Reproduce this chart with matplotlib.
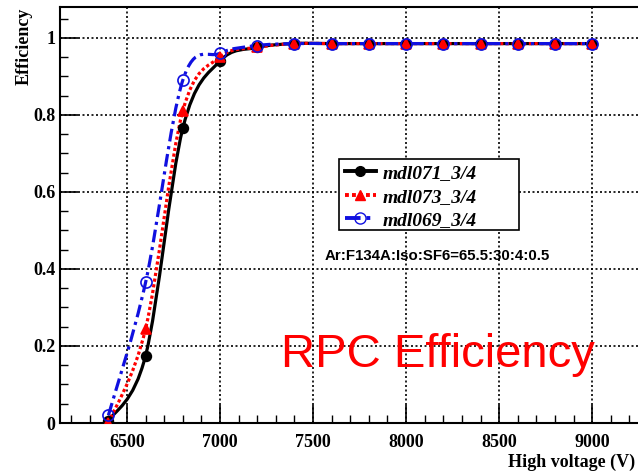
import numpy as np
import matplotlib.pyplot as plt
from matplotlib.path import Path
from matplotlib.patches import PathPatch, Rectangle
from matplotlib.lines import Line2D
from matplotlib.ticker import MultipleLocator

voltage = [6400, 6600, 6800, 7000, 7200, 7400, 7600, 7800, 8000, 8200, 8400, 8600, 8800, 9000]
eff_071 = [0.005, 0.175, 0.765, 0.940, 0.975, 0.985, 0.985, 0.985, 0.985, 0.985, 0.985, 0.985, 0.985, 0.985]
eff_073 = [0.000, 0.245, 0.810, 0.950, 0.975, 0.985, 0.985, 0.985, 0.985, 0.985, 0.985, 0.985, 0.985, 0.985]
eff_069 = [0.020, 0.365, 0.890, 0.960, 0.980, 0.985, 0.985, 0.985, 0.985, 0.985, 0.985, 0.985, 0.985, 0.985]
names = ["mdl071_3/4", "mdl073_3/4", "mdl069_3/4"]

serif = "Liberation Serif"
sans = "Liberation Sans"


def smooth_path(x, y):
    # catmull-rom through the points, as cubic bezier segments
    p = np.column_stack([x, y]).astype(float)
    ext = np.vstack([p[0], p, p[-1]])
    verts = [p[0]]
    codes = [Path.MOVETO]
    for i in range(1, len(ext) - 2):
        p0, p1, p2, p3 = ext[i - 1], ext[i], ext[i + 1], ext[i + 2]
        verts += [p1 + (p2 - p0) / 6, p2 - (p3 - p1) / 6, p2]
        codes += [Path.CURVE4] * 3
    return Path(verts, codes)


fig = plt.figure(figsize=(6.38, 4.74), dpi=100)
ax = fig.add_axes([60 / 638, 51 / 474, 588 / 638, 416 / 474])

styles = [
    dict(color="black", ls="-", marker="o", mfc="black", ms=7),
    dict(color="red", ls=(0, (1, 0.8)), marker="^", mfc="red", ms=7),
    dict(color="#1010e0", ls=(0, (4, 1.5, 1, 1.5)), marker="o", mfc="none", ms=8),
]
series = [eff_071, eff_073, eff_069]

for ys, st in zip(series, styles):
    ax.add_patch(PathPatch(smooth_path(voltage, ys), fill=False, edgecolor=st["color"],
                           linestyle=st["ls"], linewidth=2.3, zorder=3))
for ys, st in zip(series, styles):
    ax.plot(voltage, ys, linestyle="none", marker=st["marker"], color=st["color"],
            mfc=st["mfc"], mec=st["color"], ms=st["ms"], mew=1.2, zorder=4)

ax.set_xlim(6140, 9300)
ax.set_ylim(0, 1.08)
ax.xaxis.set_major_locator(MultipleLocator(500))
ax.xaxis.set_minor_locator(MultipleLocator(100))
ax.yaxis.set_major_locator(MultipleLocator(0.2))
ax.yaxis.set_minor_locator(MultipleLocator(0.05))
ax.yaxis.set_major_formatter(plt.FuncFormatter(lambda v, p: "%g" % round(v, 2)))
ax.tick_params(which="major", direction="in", length=13, width=1.2, top=False, right=False)
ax.tick_params(which="minor", direction="in", length=6, width=1.0, top=False, right=False)
ax.tick_params(axis="x", pad=8)
for lab in ax.get_xticklabels() + ax.get_yticklabels():
    lab.set_fontfamily(serif)
    lab.set_fontweight("bold")
    lab.set_fontsize(13)
ax.grid(True, which="major", color="black", linestyle=(0, (1.2, 1.5)), linewidth=1.2)
for s in ax.spines.values():
    s.set_linewidth(1.5)

# legend box (ROOT style, wider than its text)
box = Rectangle(((339 - 60) / 588, (423 - 230) / 416), 180 / 588, 71 / 416,
                transform=ax.transAxes, facecolor="white", edgecolor="black",
                linewidth=1.2, zorder=5)
ax.add_patch(box)

handles = [Line2D([], [], color=st["color"], linestyle=st["ls"], linewidth=2.8,
                  marker=st["marker"], mfc=st["mfc"], mec=st["color"], ms=st["ms"])
           for st in styles]
leg = ax.legend(handles, names, loc="upper left", bbox_to_anchor=(0.4745, 0.635),
                prop=dict(family=serif, style="italic", weight="bold", size=14),
                frameon=False, handlelength=1.6, handletextpad=0.35, borderpad=0.3,
                labelspacing=0.3, borderaxespad=0)
leg.set_zorder(6)

fig.text(325 / 638, 1 - 256 / 474, "Ar:F134A:Iso:SF6=65.5:30:4:0.5", family=sans,
         fontsize=10.8, fontweight="bold", va="center", ha="left")
fig.text(438 / 638, 1 - 355 / 474, "RPC Efficiency", family=sans, fontsize=34,
         color="red", va="center", ha="center")
fig.text(24 / 638, 1 - 8 / 474, "Efficiency", family=serif, fontweight="bold",
         fontsize=13, rotation=90, va="top", ha="center")
fig.text(508 / 638, 1 - 462 / 474, "High voltage (V)", family=serif, fontweight="bold",
         fontsize=13, va="center", ha="left")

fig.savefig("out.png", dpi=100)
